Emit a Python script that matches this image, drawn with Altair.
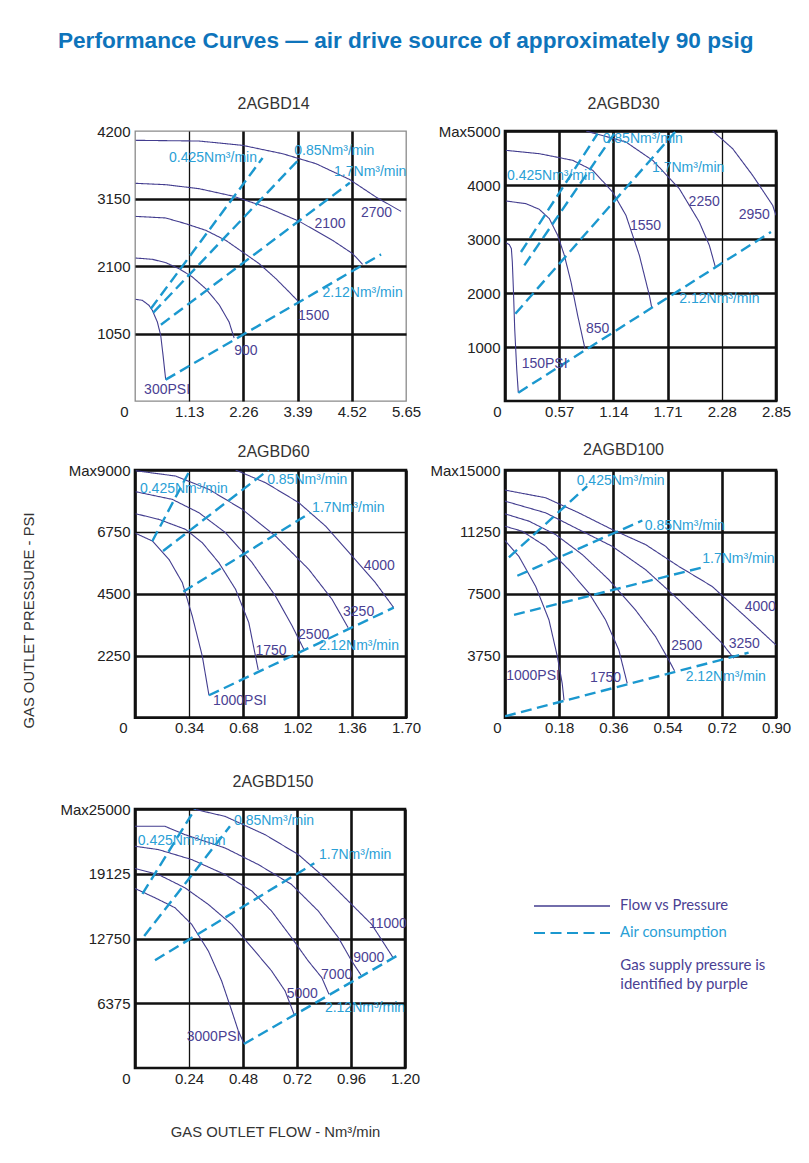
import altair as alt
import pandas as pd

# ---------------------------------------------------------------- data
# 2AGBD14
P14_CURVES = {
    "300PSI": ([0.014, 0.153, 0.292, 0.362, 0.466, 0.536, 0.585, 0.640],
               [1581, 1566, 1488, 1410, 1229, 1021, 710, 332]),
    "900": ([0.014, 0.362, 0.640, 0.919, 1.197, 1.475, 1.754, 1.962, 2.067],
            [2224, 2204, 2152, 2058, 1929, 1747, 1498, 1228, 980]),
    "1500": ([0.014, 0.640, 1.058, 1.475, 1.893, 2.241, 2.589, 2.937, 3.215, 3.403],
             [2872, 2847, 2758, 2655, 2499, 2318, 2136, 1903, 1695, 1550]),
    "2100": ([0.014, 0.640, 1.336, 2.032, 2.728, 3.424, 4.120, 4.537, 4.746],
             [3386, 3365, 3303, 3189, 3018, 2795, 2499, 2292, 2126]),
    "2700": ([0.014, 1.336, 2.241, 3.076, 3.772, 4.468, 5.024, 5.546],
             [4055, 4044, 3977, 3847, 3692, 3448, 3173, 2950]),
}
P14_AIR = {
    "0.425": ([0.33, 2.66], [1436, 3780]),
    "0.85": ([0.38, 3.40], [1374, 3744]),
    "1.7": ([0.54, 4.48], [1187, 3396]),
    "2.12": ([0.64, 5.13], [332, 2281]),
}
P14_FLOW_TEXT = ["0.425Nm³/min", "0.85Nm³/min", "1.7Nm³/min", "2.12Nm³/min"]
P14_FLOW_X = [0.71, 3.32, 4.15, 3.91]
P14_FLOW_Y = [3785, 3884, 3562, 1685]
P14_PSI_TEXT = ["2700", "2100", "1500", "900", "300PSI"]
P14_PSI_X = [4.71, 3.74, 3.40, 2.07, 0.19]
P14_PSI_Y = [2924, 2758, 1317, 778, 176]
P14_XTICKS = [0, 1.13, 2.26, 3.39, 4.52, 5.65]
P14_YTICKS = [1050, 2100, 3150, 4200]

# 2AGBD30
P30_CURVES = {
    "150PSI": ([0.011, 0.046, 0.067, 0.077, 0.088, 0.102, 0.123, 0.140],
               [2932, 2895, 2821, 2574, 2080, 1340, 599, 154]),
    "850": ([0.011, 0.221, 0.361, 0.466, 0.554, 0.624, 0.694, 0.764, 0.841],
            [3704, 3654, 3549, 3377, 3068, 2698, 2204, 1586, 969]),
    "1550": ([0.011, 0.361, 0.712, 0.922, 1.132, 1.272, 1.413, 1.518, 1.542],
             [4642, 4580, 4457, 4272, 3870, 3438, 2698, 1957, 1741]),
    "2250": ([0.852, 1.272, 1.553, 1.833, 2.043, 2.149, 2.212],
             [5000, 4796, 4457, 3932, 3315, 2883, 2482]),
    "2950": ([2.184, 2.394, 2.604, 2.815, 2.850],
             [5000, 4673, 4179, 3623, 3438]),
}
P30_AIR = {
    "0.425": ([0.168, 0.974], [2759, 4951]),
    "0.85": ([0.203, 1.167], [2512, 4994]),
    "1.7": ([0.109, 1.798], [1617, 5000]),
    "2.12": ([0.140, 2.797], [154, 3130]),
}
P30_FLOW_TEXT = ["0.85Nm³/min", "0.425Nm³/min", "1.7Nm³/min", "2.12Nm³/min"]
P30_FLOW_X = [1.027, 0.021, 1.546, 1.833]
P30_FLOW_Y = [4846, 4167, 4321, 1883]
P30_PSI_TEXT = ["2250", "2950", "1550", "850", "150PSI"]
P30_PSI_X = [1.931, 2.457, 1.314, 0.852, 0.175]
P30_PSI_Y = [3685, 3438, 3241, 1327, 679]
P30_XTICKS = [0, 0.57, 1.14, 1.71, 2.28, 2.85]
P30_YTICKS = [1000, 2000, 3000, 4000, 5000]

# 2AGBD60
P60_CURVES = {
    "1000PSI": ([0.004, 0.109, 0.213, 0.297, 0.359, 0.422, 0.464],
                [6697, 6418, 5752, 4905, 3694, 2240, 811]),
    "1750": ([0.004, 0.150, 0.317, 0.422, 0.526, 0.631, 0.714, 0.773],
             [7411, 7205, 6842, 6358, 5631, 4662, 3451, 1732]),
    "2500": ([0.004, 0.234, 0.401, 0.568, 0.735, 0.881, 0.986, 1.059],
             [8211, 7932, 7448, 6721, 5631, 4420, 3330, 2483]),
    "3250": ([0.004, 0.255, 0.464, 0.673, 0.881, 1.090, 1.236, 1.337],
             [8974, 8780, 8295, 7569, 6600, 5389, 4299, 3270]),
    "4000": ([0.631, 0.819, 1.028, 1.195, 1.362, 1.508, 1.623],
             [9000, 8537, 7811, 6963, 5873, 4905, 3996]),
}
P60_AIR = {
    "0.425": ([0.109, 0.345], [6418, 9000]),
    "0.85": ([0.176, 0.836], [6055, 9000]),
    "1.7": ([0.303, 1.101], [4578, 7448]),
    "2.12": ([0.464, 1.623], [811, 3996]),
}
P60_FLOW_TEXT = ["0.425Nm³/min", "0.85Nm³/min", "1.7Nm³/min", "2.12Nm³/min"]
P60_FLOW_X = [0.031, 0.829, 1.111, 1.153]
P60_FLOW_Y = [8295, 8634, 7605, 2604]
P60_PSI_TEXT = ["4000", "3250", "2500", "1750", "1000PSI"]
P60_PSI_X = [1.435, 1.305, 1.023, 0.756, 0.489]
P60_PSI_Y = [5510, 3851, 3003, 2422, 605]
P60_XTICKS = [0, 0.34, 0.68, 1.02, 1.36, 1.70]
P60_YTICKS = [2250, 4500, 6750, 9000]

# 2AGBD100
P100_CURVES = {
    "1000PSI": ([0.0, 0.046, 0.102, 0.146, 0.174, 0.190, 0.196],
                [10723, 9770, 7946, 5919, 3689, 2068, 1054]),
    "1750": ([0.0, 0.057, 0.135, 0.212, 0.279, 0.334, 0.378, 0.406],
             [11594, 11290, 10378, 8959, 7540, 5919, 4095, 2068]),
    "2500": ([0.0, 0.080, 0.168, 0.257, 0.345, 0.433, 0.500, 0.544, 0.563],
             [12344, 11898, 11088, 9872, 8351, 6527, 4905, 3486, 2838]),
    "3250": ([0.0, 0.135, 0.245, 0.356, 0.467, 0.577, 0.666, 0.721, 0.760],
             [13115, 12405, 11392, 10378, 8959, 7135, 5513, 4500, 3588]),
    "4000": ([0.0, 0.135, 0.245, 0.356, 0.467, 0.577, 0.688, 0.798, 0.900],
             [13784, 13318, 12405, 11392, 10480, 9162, 7946, 6122, 4399]),
}
P100_AIR = {
    "0.425": ([0.013, 0.273], [9709, 14027]),
    "0.85": ([0.041, 0.456], [8595, 11939]),
    "1.7": ([0.030, 0.660], [6223, 9122]),
    "2.12": ([0.0, 0.809], [81, 3932]),
}
P100_FLOW_TEXT = ["0.425Nm³/min", "0.85Nm³/min", "1.7Nm³/min", "2.12Nm³/min"]
P100_FLOW_X = [0.238, 0.464, 0.655, 0.600]
P100_FLOW_Y = [14331, 11594, 9608, 2473]
P100_PSI_TEXT = ["4000", "3250", "2500", "1750", "1000PSI"]
P100_PSI_X = [0.796, 0.743, 0.552, 0.282, 0.004]
P100_PSI_Y = [6689, 4439, 4358, 2372, 2513]
P100_XTICKS = [0, 0.18, 0.36, 0.54, 0.72, 0.90]
P100_YTICKS = [3750, 7500, 11250, 15000]

# 2AGBD150
P150_CURVES = {
    "3000PSI": ([0.0, 0.089, 0.178, 0.252, 0.326, 0.385, 0.430, 0.459, 0.484],
                [17674, 16758, 15776, 14139, 11521, 8575, 5630, 3666, 2422]),
    "5000": ([0.0, 0.104, 0.222, 0.326, 0.430, 0.520, 0.607, 0.667, 0.708],
             [19638, 19049, 17740, 16103, 14139, 11848, 9557, 7593, 5237]),
    "7000": ([0.0, 0.104, 0.252, 0.400, 0.520, 0.607, 0.696, 0.770, 0.830, 0.862],
             [21831, 21504, 20522, 19049, 17413, 15449, 12830, 10539, 8903, 7266]),
    "9000": ([0.0, 0.133, 0.222, 0.400, 0.548, 0.696, 0.815, 0.904, 0.963, 1.004],
             [23795, 23795, 22977, 21667, 20031, 18067, 15449, 12830, 10539, 9164]),
    "11000": ([0.259, 0.400, 0.578, 0.726, 0.844, 0.963, 1.052, 1.145],
              [25500, 24777, 22977, 21013, 18722, 16103, 14139, 10932]),
}
P150_AIR = {
    "0.425": ([0.033, 0.267], [17150, 25500]),
    "0.85": ([0.041, 0.422], [12994, 23795]),
    "1.7": ([0.089, 0.797], [10605, 20162]),
    "2.12": ([0.484, 1.163], [2357, 11030]),
}
P150_FLOW_TEXT = ["0.85Nm³/min", "0.425Nm³/min", "1.7Nm³/min", "2.12Nm³/min"]
P150_FLOW_X = [0.440, 0.012, 0.818, 0.844]
P150_FLOW_Y = [24351, 22387, 20947, 5892]
P150_PSI_TEXT = ["11000", "9000", "7000", "5000", "3000PSI"]
P150_PSI_X = [1.040, 0.970, 0.827, 0.674, 0.230]
P150_PSI_Y = [14139, 10801, 9164, 7266, 3011]
P150_XTICKS = [0, 0.24, 0.48, 0.72, 0.96, 1.20]
P150_YTICKS = [6375, 12750, 19125, 25500]

# note beside the legend, anchored in 2AGBD150 data units
NOTE_TEXT = ["Gas supply pressure is", "identified by purple"]
NOTE_X = [2.157, 2.157]
NOTE_Y = [10170, 8300]

KINDS = ["Flow vs Pressure", "Air consumption"]
MAIN_TITLE = "Performance Curves — air drive source of approximately 90 psig"
Y_TITLE = "GAS OUTLET PRESSURE - PSI"
X_TITLE = "GAS OUTLET FLOW - Nm³/min"

# ---------------------------------------------------------------- style
FONT = "Liberation Sans"
PURPLE = "#433d8f"
PURPLE_TXT = "#4a4193"
CYAN = "#1b98cf"
CYAN_TXT = "#2aa0d6"
TICK_COLOR = "#222222"
GRID_COLOR = "#111111"

# colour legend shows the solid entry, dash legend shows the dashed entry
color_scale = alt.Scale(domain=KINDS, range=[PURPLE, CYAN])
dash_scale = alt.Scale(domain=KINDS[::-1], range=[[11, 5.5], [1, 0]])

LEGEND_SOLID = alt.Legend(
    title=None, orient="none", legendX=398, legendY=736, values=[KINDS[0]],
    labelFont="Lato", labelFontSize=14.8, labelOffset=9, labelLimit=400, labelColor=PURPLE_TXT,
    symbolType="stroke", symbolSize=5776, symbolStrokeWidth=1.5,
)
LEGEND_DASH = alt.Legend(
    title=None, orient="none", legendX=398, legendY=763, values=[KINDS[1]],
    labelFont="Lato", labelFontSize=14.8, labelOffset=9, labelLimit=400, labelColor=CYAN_TXT,
    symbolType="stroke", symbolSize=5776, symbolStrokeWidth=1.8, symbolStrokeColor=CYAN,
)


def line_frame(curves, kind):
    rows = []
    for name, (xs, ys) in curves.items():
        for i, (x, y) in enumerate(zip(xs, ys)):
            rows.append({"series": name, "kind": kind, "i": i, "x": x, "y": y})
    return pd.DataFrame(rows)


def text_frame(texts, xs, ys):
    return pd.DataFrame({"label": texts, "x": xs, "y": ys})


def panel(title, curves, air, ftxt, fx, fy, ptxt, px, py, xticks, yticks,
          top_label, width, height, thin_x=None, thin_y=None, grey_frame=False,
          title_dx=0, title_dy=0, zero_shift=-10, x_title=None, y_title=None, note=None):
    xmax = xticks[-1]
    ymax = yticks[-1]
    xs = alt.Scale(domain=[0, xmax], nice=False, zero=False)
    ys = alt.Scale(domain=[0, ymax], nice=False, zero=False)

    xgw = 2.6 if thin_x is None else {"condition": {"test": "datum.value == %s" % thin_x, "value": 1.3}, "value": 2.6}
    ygw = 2.6 if thin_y is None else {"condition": {"test": "datum.value == %s" % thin_y, "value": 1.3}, "value": 2.6}
    xgc = GRID_COLOR
    ygc = GRID_COLOR
    if grey_frame:
        xgc = {"condition": {"test": "datum.value == 0 || datum.value == %s" % xmax, "value": "transparent"}, "value": GRID_COLOR}
        ygc = {"condition": {"test": "datum.value == %s" % ymax, "value": "transparent"}, "value": GRID_COLOR}

    xkw = dict(values=xticks,
               labelExpr="datum.value == 0 ? '0' : format(datum.value, '.2f')",
               labelOffset={"condition": {"test": "datum.value == 0", "value": zero_shift}, "value": 0},
               labelFlush=False, labelOverlap=False, ticks=False, domain=False, grid=True,
               gridColor=xgc, gridWidth=xgw,
               labelPadding=3, labelFont=FONT, labelFontSize=15, labelColor=TICK_COLOR)
    if x_title:
        xkw.update(title=x_title, titleX=140, titleY=64.5, titleBaseline="middle", titleAlign="center",
                   titleFont=FONT, titleFontSize=14.8, titleFontWeight="normal", titleColor="#333333")
    else:
        xkw.update(title=None)
    ykw = dict(values=yticks,
               labelExpr="datum.value == %s ? '%s' : format(datum.value, 'd')" % (ymax, top_label),
               labelOverlap=False, ticks=False, domain=False, grid=True,
               gridColor=ygc, gridWidth=ygw, labelPadding=5, labelFont=FONT,
               labelFontSize=15, labelColor=TICK_COLOR)
    if y_title:
        ykw.update(title=y_title, titleX=-106, titleY=150, titleAngle=270, titleBaseline="middle",
                   titleAlign="center", titleFont=FONT, titleFontSize=14.8, titleFontWeight="normal",
                   titleColor="#333333")
    else:
        ykw.update(title=None)

    X = alt.X("x:Q", scale=xs, axis=alt.Axis(**xkw))
    Y = alt.Y("y:Q", scale=ys, axis=alt.Axis(**ykw))

    color = alt.Color("kind:N", scale=color_scale, legend=LEGEND_SOLID)
    dash = alt.StrokeDash("kind:N", scale=dash_scale, legend=LEGEND_DASH)

    curves_layer = alt.Chart(line_frame(curves, KINDS[0])).mark_line(strokeWidth=1.1, clip=True).encode(
        x=X, y=Y, color=color, strokeDash=dash, detail="series:N", order="i:Q")
    air_layer = alt.Chart(line_frame(air, KINDS[1])).mark_line(strokeWidth=2.4, clip=True).encode(
        x=X, y=Y, color=color, strokeDash=dash, detail="series:N", order="i:Q")
    flow_txt = alt.Chart(text_frame(ftxt, fx, fy)).mark_text(
        align="left", baseline="middle", font=FONT, fontSize=14, color=CYAN_TXT).encode(
        x=X, y=Y, text="label:N")
    psi_txt = alt.Chart(text_frame(ptxt, px, py)).mark_text(
        align="left", baseline="middle", font=FONT, fontSize=14, color=PURPLE_TXT).encode(
        x=X, y=Y, text="label:N")
    layers = [curves_layer, air_layer, flow_txt, psi_txt]
    if note is not None:
        layers.append(alt.Chart(text_frame(*note)).mark_text(
            align="left", baseline="middle", font="Lato", fontSize=15, color=PURPLE_TXT).encode(
            x=X, y=Y, text="label:N"))

    frame = alt.ViewBackground(stroke="#8a8a8a", strokeWidth=1.3) if grey_frame else \
        alt.ViewBackground(stroke=GRID_COLOR, strokeWidth=2.6)

    return alt.layer(*layers).properties(
        width=width, height=height, view=frame,
        title=alt.TitleParams(title, font=FONT, fontSize=16, fontWeight="normal", color="#333333",
                              anchor="middle", frame="group", baseline="bottom",
                              offset=0, dx=title_dx, dy=title_dy))


def spacer(h):
    return alt.Chart(pd.DataFrame({"s": []})).mark_point(opacity=0).encode(
        x=alt.value(0), y=alt.value(0)).properties(
        width=10, height=h, view=alt.ViewBackground(stroke="transparent"))


p1 = panel("2AGBD14", P14_CURVES, P14_AIR, P14_FLOW_TEXT, P14_FLOW_X, P14_FLOW_Y,
           P14_PSI_TEXT, P14_PSI_X, P14_PSI_Y, P14_XTICKS, P14_YTICKS, "4200",
           271, 270, thin_x=1.13, grey_frame=True, title_dx=3, title_dy=4, zero_shift=-11)
p2 = panel("2AGBD30", P30_CURVES, P30_AIR, P30_FLOW_TEXT, P30_FLOW_X, P30_FLOW_Y,
           P30_PSI_TEXT, P30_PSI_X, P30_PSI_Y, P30_XTICKS, P30_YTICKS, "Max5000",
           271, 270, thin_x=2.28, title_dx=-17, title_dy=4, zero_shift=-8)
p3 = panel("2AGBD60", P60_CURVES, P60_AIR, P60_FLOW_TEXT, P60_FLOW_X, P60_FLOW_Y,
           P60_PSI_TEXT, P60_PSI_X, P60_PSI_Y, P60_XTICKS, P60_YTICKS, "Max9000",
           271, 247.6, thin_x=0.34, thin_y=6750, title_dx=3, title_dy=13, zero_shift=-12,
           y_title=Y_TITLE)
p4 = panel("2AGBD100", P100_CURVES, P100_AIR, P100_FLOW_TEXT, P100_FLOW_X, P100_FLOW_Y,
           P100_PSI_TEXT, P100_PSI_X, P100_PSI_Y, P100_XTICKS, P100_YTICKS, "Max15000",
           271, 247.6, title_dx=-17, title_dy=10.5, zero_shift=-8)
p5 = panel("2AGBD150", P150_CURVES, P150_AIR, P150_FLOW_TEXT, P150_FLOW_X, P150_FLOW_Y,
           P150_PSI_TEXT, P150_PSI_X, P150_PSI_Y, P150_XTICKS, P150_YTICKS, "Max25000",
           270, 259, thin_x=0.24, title_dx=3, title_dy=4, zero_shift=-9, x_title=X_TITLE,
           note=(NOTE_TEXT, NOTE_X, NOTE_Y))

chart = alt.concat(
    p1, p2, spacer(68.4), spacer(68.4), p3, p4, spacer(91), spacer(91), p5,
    columns=2, spacing={"row": 0, "column": 99}, bounds="flush",
).properties(
    title=alt.TitleParams(MAIN_TITLE, font="Liberation Sans Narrow, Arial Narrow, sans-serif",
                          fontSize=22.6, fontWeight="bold", color="#0e74bb", anchor="middle",
                          frame="bounds", baseline="bottom", offset=19),
    padding={"left": 11, "top": 22, "right": 5, "bottom": 5},
).configure(background="white").configure_legend(padding=0)

chart.save("out.html", embed_options={"renderer": "svg", "actions": False})
